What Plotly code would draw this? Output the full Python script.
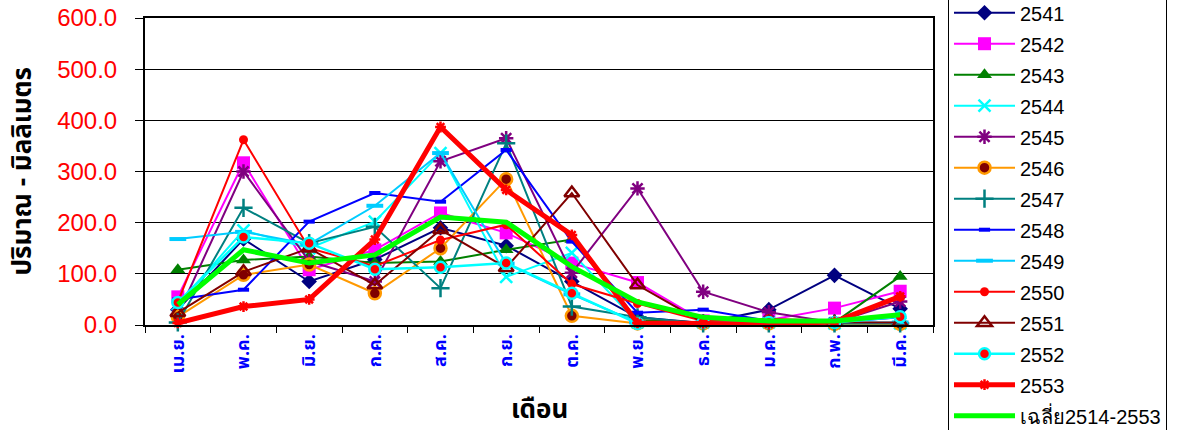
import plotly.graph_objects as go

months = ["เม.ย.", "พ.ค.", "มิ.ย.", "ก.ค.", "ส.ค.", "ก.ย.", "ต.ค.", "พ.ย.", "ธ.ค.", "ม.ค.", "ก.พ.", "มี.ค."]

y2541 = [30, 168, 85, 128, 190, 155, 85, 15, 4, 30, 97, 32]
y2542 = [55, 317, 108, 147, 219, 180, 121, 83, 8, 10, 33, 66]
y2543 = [108, 127, 134, 121, 124, 147, 167, 10, 5, 5, 5, 95]
y2544 = [40, 185, 150, 202, 336, 94, 141, 5, 5, 5, 3, 3]
y2545 = [20, 300, 125, 85, 320, 365, 102, 267, 65, 25, 5, 46]
y2546 = [16, 98, 118, 62, 150, 285, 18, 3, 3, 3, 2, 2]
y2547 = [5, 229, 160, 192, 72, 355, 36, 15, 3, 3, 3, 3]
y2548 = [50, 69, 202, 258, 241, 342, 163, 24, 30, 8, 5, 15]
y2549 = [168, 182, 158, 233, 336, 120, 60, 5, 5, 5, 5, 5]
y2550 = [45, 362, 150, 115, 166, 196, 80, 42, 8, 12, 8, 55]
y2551 = [24, 104, 150, 78, 186, 112, 258, 78, 5, 5, 5, 5]
y2552 = [44, 172, 160, 109, 113, 121, 62, 3, 5, 5, 5, 16]
y2553 = [4, 36, 50, 167, 387, 264, 176, 4, 3, 2, 6, 56]
avg = [40, 147, 121, 137, 211, 201, 114, 45, 15, 8, 8, 20]

THAI = "Tahoma, 'Noto Sans Thai', 'Loma', 'Garuda', 'Noto Sans', sans-serif"
ARIAL = "Arial, 'Liberation Sans', sans-serif"

# (name, values, line color, line width, marker dict)
series = [
    ("2541", y2541, "#000080", 2, dict(symbol="diamond", size=12, color="#000080")),
    ("2542", y2542, "#FF00FF", 2, dict(symbol="square", size=13, color="#FF00FF")),
    ("2543", y2543, "#008000", 2, dict(symbol="triangle-up", size=13, color="#008000")),
    ("2544", y2544, "#00FFFF", 2, dict(symbol="x-thin-open", size=12, color="#00FFFF", line=dict(width=2.5, color="#00FFFF"))),
    ("2545", y2545, "#800080", 2, dict(symbol="asterisk-open", size=12, color="#800080", line=dict(width=2.5, color="#800080"))),
    ("2546", y2546, "#FF9900", 2, dict(symbol="circle", size=12, color="#800000", line=dict(width=2.5, color="#FF9900"))),
    ("2547", y2547, "#008080", 2, dict(symbol="cross-thin-open", size=13, color="#008080", line=dict(width=2.5, color="#008080"))),
    ("2548", y2548, "#0000FF", 2, dict(symbol="line-ew-open", size=8, color="#0000FF", line=dict(width=4, color="#0000FF"))),
    ("2549", y2549, "#00CCFF", 2, dict(symbol="line-ew-open", size=12, color="#00CCFF", line=dict(width=4, color="#00CCFF"))),
    ("2550", y2550, "#FF0000", 2, dict(symbol="circle", size=9, color="#FF0000")),
    ("2551", y2551, "#800000", 2, dict(symbol="triangle-up-open", size=13, color="#800000", line=dict(width=2.5, color="#800000"))),
    ("2552", y2552, "#00FFFF", 2.5, dict(symbol="circle", size=11, color="#FF0000", line=dict(width=2.5, color="#00FFFF"))),
    ("2553", y2553, "#FF0000", 5, dict(symbol="asterisk-open", size=9, color="#FF0000", line=dict(width=2.5, color="#FF0000"))),
]

fig = go.Figure()

# drop shadow of the 2552 markers (drawn on a hidden, slightly shifted axis pair beneath)
fig.add_trace(go.Scatter(
    x=months, y=y2552, mode="markers", showlegend=False, hoverinfo="skip",
    marker=dict(symbol="circle", size=12, color="#000000"),
    xaxis="x", yaxis="y", cliponaxis=False,
))

for name, vals, col, lw, mk in series:
    fig.add_trace(go.Scatter(
        x=months, y=vals, name=name, mode="lines+markers", legendgroup=name,
        line=dict(color=col, width=lw), marker=mk,
        xaxis="x2", yaxis="y2", cliponaxis=False,
    ))

fig.add_trace(go.Scatter(
    x=months, y=avg, name="เฉลี่ย2514-2553", mode="lines", legendgroup="avg",
    line=dict(color="#00FF00", width=5),
    xaxis="x2", yaxis="y2", cliponaxis=False,
))

W, H = 1177, 430
L, R, T, B = 145, 244, 18, 105
pw, ph = W - L - R, H - T - B
step = pw / len(months)
dxu = 4 / step           # shadow shift in category units
dyu = 5 / (ph / 600.0)   # shadow shift in data units

fig.update_layout(
    width=W, height=H,
    margin=dict(l=L, r=R, t=T, b=B, autoexpand=False),
    paper_bgcolor="white", plot_bgcolor="white",
    showlegend=True,
    xaxis=dict(domain=[0, 1], anchor="y", type="category", categoryorder="array",
               categoryarray=months, range=[-0.5 - dxu, len(months) - 0.5 - dxu],
               visible=False, showgrid=False),
    yaxis=dict(domain=[0, 1], anchor="x", range=[dyu, 600 + dyu], visible=False, showgrid=False),
    xaxis2=dict(domain=[0, 1], anchor="y2", type="category", categoryorder="array",
                categoryarray=months, range=[-0.5, len(months) - 0.5],
                showgrid=False, showline=True, linecolor="black", linewidth=2, mirror=True,
                ticks="outside", tickson="boundaries", ticklen=6, tickcolor="black",
                tickangle=-90, tickfont=dict(family=THAI, size=18, color="#0000FF", weight="bold"),
                zeroline=False),
    yaxis2=dict(domain=[0, 1], anchor="x2", range=[0, 600], dtick=100, tickformat=".1f",
                showgrid=True, gridcolor="black", gridwidth=1,
                showline=True, linecolor="black", linewidth=2, mirror=True,
                ticks="outside", ticklen=8, tickcolor="black",
                ticklabelstandoff=13,
                tickfont=dict(family=ARIAL, size=24, color="#FF0000"), zeroline=False),
    legend=dict(x=(948 - L) / pw, xanchor="left", y=1.084, yanchor="top",
                font=dict(family=ARIAL, size=20, color="black"),
                bordercolor="black", borderwidth=1, bgcolor="white",
                itemwidth=61, maxheight=700, tracegroupgap=2, traceorder="grouped"),
    annotations=[
        dict(text="<b>เดือน</b>", xref="paper", yref="paper", x=0.5, y=-(410 - T - ph) / ph,
             xanchor="center", yanchor="middle", showarrow=False,
             font=dict(family=THAI, size=26, color="black")),
        dict(text="<b>ปริมาณ - มิลลิเมตร</b>", xref="paper", yref="paper",
             x=(22 - L) / pw, y=0.5, xanchor="center", yanchor="middle",
             textangle=-90, showarrow=False,
             font=dict(family=THAI, size=26, color="black")),
    ],
)

fig.write_html("out.html", config={"displayModeBar": False},
               post_script="document.body.style.margin='0';")
